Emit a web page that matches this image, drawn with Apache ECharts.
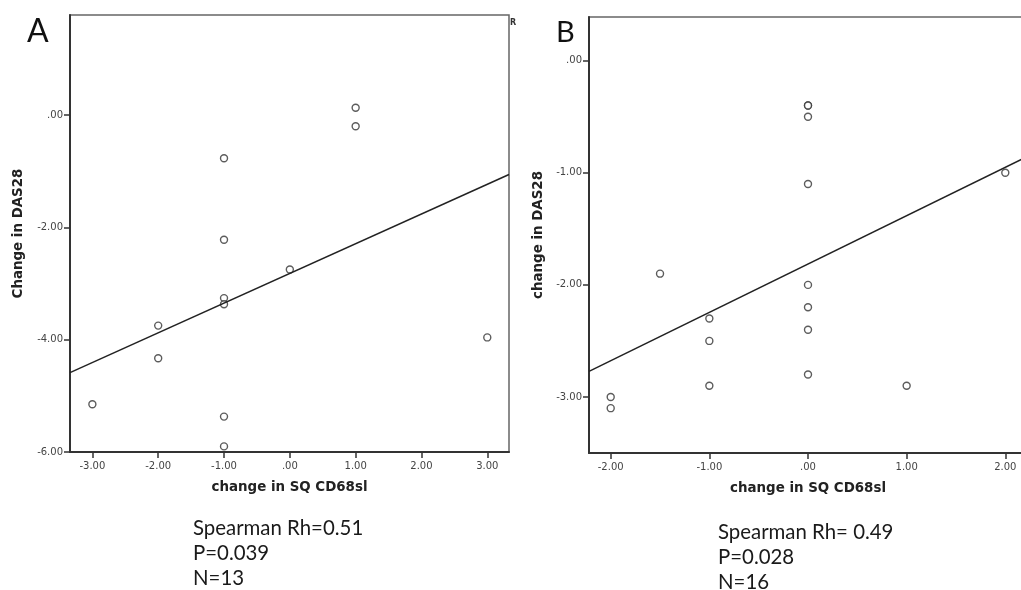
<!DOCTYPE html>
<html>
<head>
<meta charset="utf-8">
<script src="https://cdn.jsdelivr.net/npm/echarts@6/dist/echarts.min.js"></script>
<style>
html,body{margin:0;padding:0;background:#fff;}
#chart{width:1021px;height:590px;}
</style>
</head>
<body>
<div id="chart"></div>
<script>
// Panel A data
const xA = [1, 1, -1, -1, 0, -1, -1, -2, -2, 3, -3, -1, -1];
const yA = [0.13, -0.2, -0.77, -2.22, -2.75, -3.26, -3.37, -3.75, -4.33, -3.96, -5.15, -5.37, -5.9];
// Panel B data
const xB = [-2, -2, -1.5, -1, -1, -1, 0, 0, 0, 0, 0, 0, 0, 0, 1, 2];
const yB = [-3.0, -3.1, -1.9, -2.3, -2.5, -2.9, -0.4, -0.4, -0.5, -1.1, -2.0, -2.2, -2.4, -2.8, -2.9, -1.0];

const xTicksA = [-3, -2, -1, 0, 1, 2, 3];
const yTicksA = [-6, -4, -2, 0];
const xTicksB = [-2, -1, 0, 1, 2];
const yTicksB = [-3, -2, -1, 0];

const statsA = ['Spearman Rh=0.51', 'P=0.039', 'N=13'];
const statsB = ['Spearman Rh= 0.49', 'P=0.028', 'N=16'];

// axis extents
const xRangeA = [-3.34, 3.33], yRangeA = [-6, 1.78];
const xRangeB = [-2.22, 2.22], yRangeB = [-3.5, 0.39];

function fit(xs, ys) {
  const n = xs.length;
  const mx = xs.reduce((a, b) => a + b, 0) / n;
  const my = ys.reduce((a, b) => a + b, 0) / n;
  let sxy = 0, sxx = 0;
  for (let i = 0; i < n; i++) { sxy += (xs[i] - mx) * (ys[i] - my); sxx += (xs[i] - mx) ** 2; }
  const b = sxy / sxx, a = my - b * mx;
  return x => a + b * x;
}
const fA = fit(xA, yA), fB = fit(xB, yB);

function fmt(v) {
  if (Math.abs(v) < 1e-9) return '.00';
  return v.toFixed(2);
}

const tickFont = { fontFamily: 'DejaVu Sans', fontSize: 10, color: '#444' };
const nameFont = { fontFamily: 'DejaVu Sans', fontSize: 13.4, fontWeight: 'bold', color: '#222' };

function xAxis(idx, range, ticks, name) {
  return {
    type: 'value', gridIndex: idx, min: range[0], max: range[1],
    name: name, nameLocation: 'middle', nameGap: 29, nameTextStyle: nameFont,
    axisLine: { show: true, onZero: false, lineStyle: { color: '#333', width: 2 } },
    axisTick: { show: true, customValues: ticks, length: 6, lineStyle: { color: '#333', width: 1.5 } },
    axisLabel: Object.assign({ customValues: ticks, formatter: fmt, margin: 9 }, tickFont),
    splitLine: { show: false }
  };
}
function yAxis(idx, range, ticks, name, gap) {
  return {
    type: 'value', gridIndex: idx, min: range[0], max: range[1],
    name: name, nameLocation: 'middle', nameGap: gap, nameTextStyle: nameFont,
    axisLine: { show: true, onZero: false, lineStyle: { color: '#333', width: 2 } },
    axisTick: { show: true, customValues: ticks, length: 6, lineStyle: { color: '#333', width: 1.5 } },
    axisLabel: Object.assign({ customValues: ticks, formatter: fmt, margin: 7 }, tickFont),
    splitLine: { show: false }
  };
}

const scatterStyle = {
  symbol: 'circle', symbolSize: 7,
  itemStyle: { color: '#fff', borderColor: '#333', borderWidth: 1.4 }
};

const option = {
  backgroundColor: '#fff',
  animation: false,
  grid: [
    { left: 70, top: 15, width: 439, height: 437, show: true, borderColor: '#666', borderWidth: 1.5, backgroundColor: 'transparent', outerBoundsMode: 'none', containLabel: false },
    { left: 589, top: 17, width: 438, height: 436, show: true, borderColor: '#666', borderWidth: 1.5, backgroundColor: 'transparent', outerBoundsMode: 'none', containLabel: false }
  ],
  xAxis: [
    xAxis(0, xRangeA, xTicksA, 'change in SQ CD68sl'),
    xAxis(1, xRangeB, xTicksB, 'change in SQ CD68sl')
  ],
  yAxis: [
    yAxis(0, yRangeA, yTicksA, 'Change in DAS28', 45),
    yAxis(1, yRangeB, yTicksB, 'change in DAS28', 44)
  ],
  series: [
    {
      type: 'line', xAxisIndex: 0, yAxisIndex: 0, showSymbol: false, clip: true,
      lineStyle: { color: '#222', width: 1.5 },
      data: xRangeA.map(x => [x, fA(x)])
    },
    Object.assign({ type: 'scatter', xAxisIndex: 0, yAxisIndex: 0, data: xA.map((x, i) => [x, yA[i]]) }, scatterStyle),
    {
      type: 'line', xAxisIndex: 1, yAxisIndex: 1, showSymbol: false, clip: true,
      lineStyle: { color: '#222', width: 1.5 },
      data: xRangeB.map(x => [x, fB(x)])
    },
    Object.assign({ type: 'scatter', xAxisIndex: 1, yAxisIndex: 1, data: xB.map((x, i) => [x, yB[i]]) }, scatterStyle)
  ],
  graphic: [
    { type: 'text', left: 27, top: 16, style: { text: 'A', font: '32px Lato', fill: '#111' } },
    { type: 'text', left: 556, top: 18, style: { text: 'B', font: '29px Lato', fill: '#111' } },
    { type: 'text', left: 510, top: 19, style: { text: 'R', font: 'bold 8px "DejaVu Sans"', fill: '#333' } },
    { type: 'text', left: 193, top: 516, style: { text: statsA.join('\n'), font: '20.4px Lato', lineHeight: 25, fill: '#1a1a1a' } },
    { type: 'text', left: 718, top: 520, style: { text: statsB.join('\n'), font: '20.4px Lato', lineHeight: 25, fill: '#1a1a1a' } }
  ]
};

const chart = echarts.init(document.getElementById('chart'), null, { renderer: 'canvas' });
chart.setOption(option);
</script>
</body>
</html>
